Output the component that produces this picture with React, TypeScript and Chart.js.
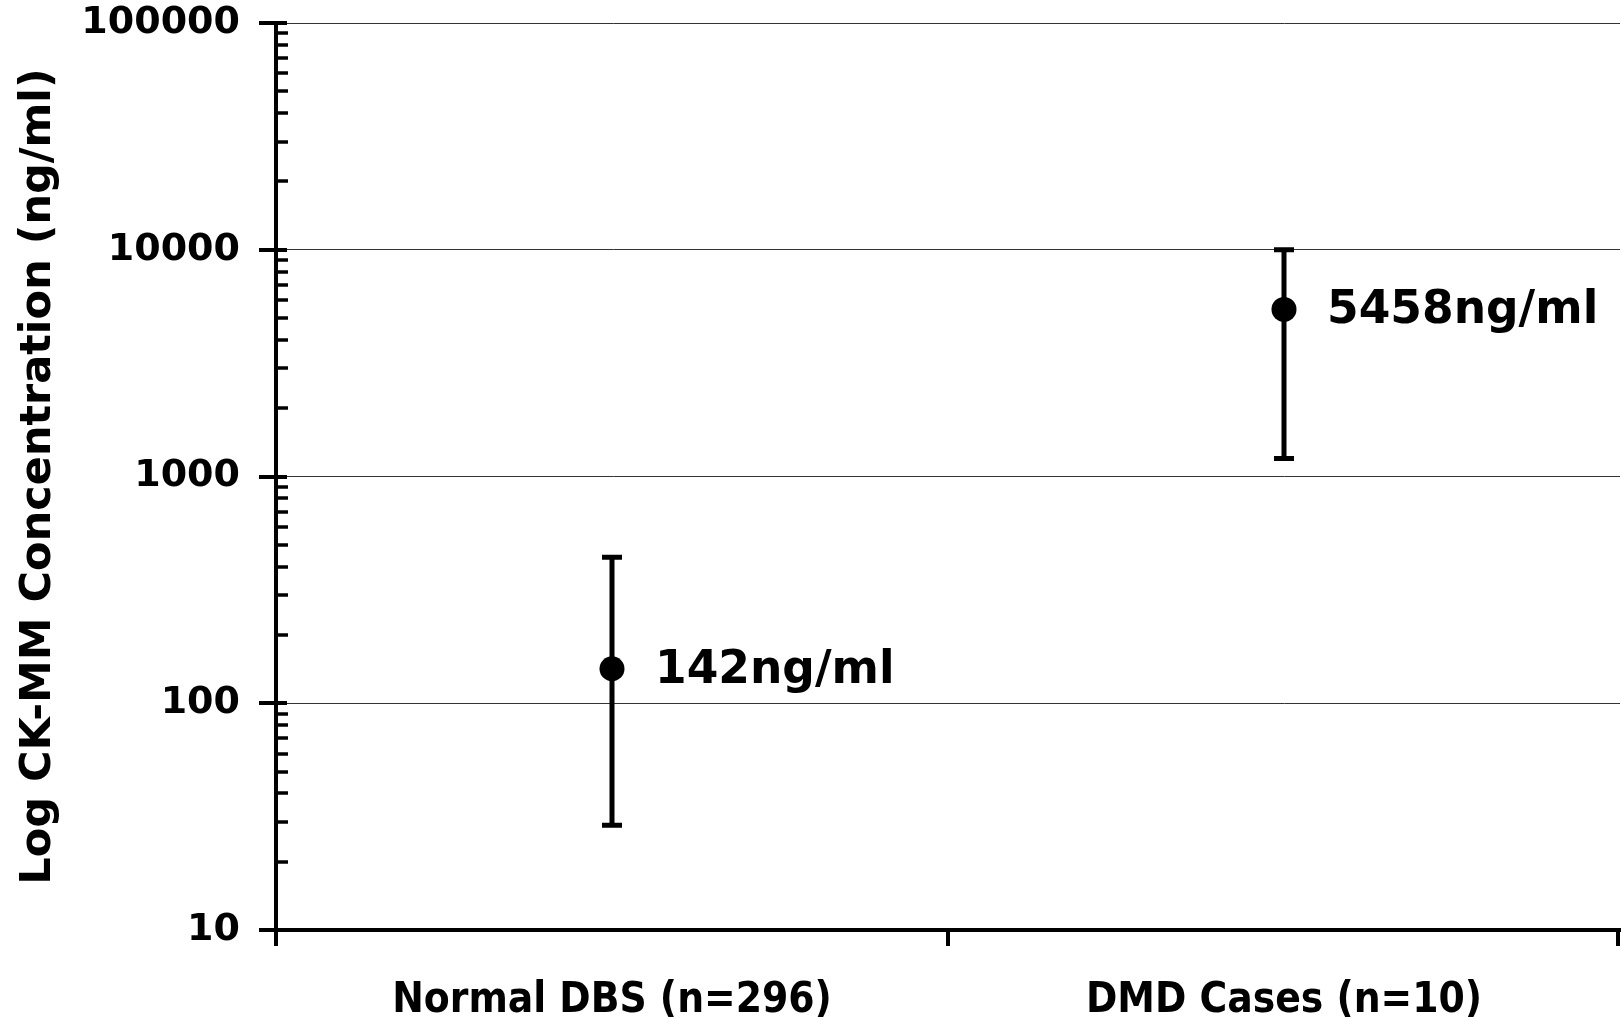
import React, { useEffect, useRef } from "react";
import { Chart, registerables } from "chart.js";

Chart.register(...registerables);

const categories = ["Normal DBS (n=296)", "DMD Cases (n=10)"];
const means = [142, 5458];
const lowerBounds = [29, 1200];
const upperBounds = [440, 10000];
const valueLabels = ["142ng/ml", "5458ng/ml"];
const yTickValues = [10, 100, 1000, 10000, 100000];
const minorMultipliers = [2, 3, 4, 5, 6, 7, 8, 9];

const decorPlugin = {
  id: "decor",
  beforeDatasetsDraw(chart: any) {
    const { ctx, scales } = chart;
    const x = scales.x;
    const y = scales.y;
    ctx.save();
    ctx.strokeStyle = "#000";
    ctx.lineWidth = 5;
    ctx.lineCap = "butt";
    means.forEach((_m, i) => {
      const px = x.getPixelForValue(i);
      const yl = y.getPixelForValue(lowerBounds[i]);
      const yu = y.getPixelForValue(upperBounds[i]);
      ctx.beginPath();
      ctx.moveTo(px, yl);
      ctx.lineTo(px, yu);
      ctx.stroke();
      ctx.beginPath();
      ctx.moveTo(px - 10, yl);
      ctx.lineTo(px + 10, yl);
      ctx.moveTo(px - 10, yu);
      ctx.lineTo(px + 10, yu);
      ctx.stroke();
    });
    ctx.restore();
  },
  afterDraw(chart: any) {
    const { ctx, scales, chartArea } = chart;
    const x = scales.x;
    const y = scales.y;
    const ax = chartArea.left;
    ctx.save();
    ctx.strokeStyle = "#000";
    // major y ticks crossing the axis
    ctx.lineWidth = 4;
    yTickValues.forEach((v) => {
      const py = Math.round(y.getPixelForValue(v));
      ctx.beginPath();
      ctx.moveTo(ax - 17, py);
      ctx.lineTo(ax + 11, py);
      ctx.stroke();
    });
    // minor ticks inside
    ctx.lineWidth = 3.5;
    yTickValues.slice(0, -1).forEach((d) => {
      minorMultipliers.forEach((m) => {
        const py = Math.round(y.getPixelForValue(d * m));
        ctx.beginPath();
        ctx.moveTo(ax, py);
        ctx.lineTo(ax + 12, py);
        ctx.stroke();
      });
    });
    // x ticks at category boundaries
    ctx.lineWidth = 4;
    const bottom = chartArea.bottom;
    const edges = [chartArea.left, (chartArea.left + chartArea.right) / 2, chartArea.right - 2];
    edges.forEach((ex) => {
      ctx.beginPath();
      ctx.moveTo(ex, bottom);
      ctx.lineTo(ex, bottom + 16);
      ctx.stroke();
    });
    // value labels
    ctx.fillStyle = "#000";
    ctx.font = 'bold 45.5px "DejaVu Sans"';
    ctx.textAlign = "left";
    ctx.textBaseline = "alphabetic";
    means.forEach((m, i) => {
      const px = x.getPixelForValue(i);
      const py = y.getPixelForValue(m);
      ctx.fillText(valueLabels[i], px + 43, py + 14);
    });
    ctx.restore();
  },
};

export default function App() {
  const canvasRef = useRef<HTMLCanvasElement | null>(null);

  useEffect(() => {
    document.body.style.margin = "0";
    document.body.style.overflow = "hidden";
    const canvas = canvasRef.current;
    if (!canvas) return;
    const chart = new Chart(canvas, {
      type: "line",
      data: {
        labels: categories,
        datasets: [
          {
            data: means,
            showLine: false,
            pointRadius: 12.5,
            pointHoverRadius: 12.5,
            pointBackgroundColor: "#000",
            pointBorderWidth: 0,
            borderColor: "#000",
            backgroundColor: "#000",
          },
        ],
      },
      options: {
        animation: false,
        responsive: false,
        devicePixelRatio: 1,
        layout: { autoPadding: false, padding: { top: 23, right: 4, left: 0, bottom: 0 } },
        plugins: {
          legend: { display: false },
          tooltip: { enabled: false },
        },
        scales: {
          x: {
            type: "category",
            offset: true,
            grid: { display: false, drawTicks: false, offset: true },
            border: { display: true, color: "#000", width: 4 },
            ticks: {
              color: "#000",
              padding: 46,
              maxRotation: 0,
              font: { family: '"DejaVu Sans Condensed", "DejaVu Sans"', weight: "bold", size: 42 },
            },
            afterFit(scale: any) {
              scale.height = 87;
              scale.paddingLeft = 0;
              scale.paddingRight = 0;
            },
          },
          y: {
            type: "logarithmic",
            min: 10,
            max: 100000,
            grid: { color: "rgba(0,0,0,0.8)", lineWidth: 1, drawTicks: false },
            border: { display: true, color: "#000", width: 4 },
            afterBuildTicks(scale: any) {
              scale.ticks = yTickValues.map((v) => ({ value: v }));
            },
            ticks: {
              color: "#000",
              padding: 36,
              font: { family: '"DejaVu Sans"', weight: "bold", size: 38 },
              callback: (v: any) => String(v),
            },
            title: {
              display: true,
              text: "Log CK-MM Concentration (ng/ml)",
              color: "#000",
              font: { family: '"DejaVu Sans"', weight: "bold", size: 43 },
              padding: { top: 13, bottom: 0 },
            },
            afterFit(scale: any) {
              scale.width = 276;
              scale.paddingTop = 0;
              scale.paddingBottom = 0;
            },
          },
        },
      },
      plugins: [decorPlugin],
    });
    return () => chart.destroy();
  }, []);

  return (
    <div style={{ width: 1624, height: 1017 }}>
      <canvas ref={canvasRef} width={1624} height={1017} style={{ display: "block" }} />
    </div>
  );
}
